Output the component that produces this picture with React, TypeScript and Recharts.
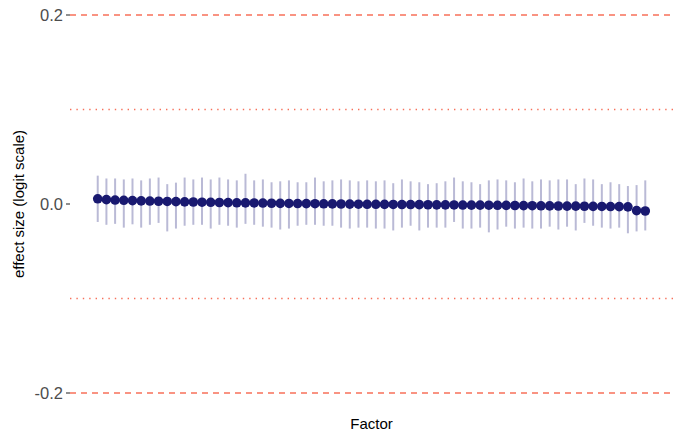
import React from "react";
import {
  ComposedChart,
  Scatter,
  ErrorBar,
  XAxis,
  YAxis,
  ReferenceLine,
  Label,
} from "recharts";

const estimates = [
  0.0055, 0.0046, 0.0042, 0.0039, 0.0036, 0.0033, 0.0031, 0.0029, 0.0027, 0.0025,
  0.0023, 0.0021, 0.0019, 0.0018, 0.0016, 0.0015, 0.0013, 0.0012, 0.0011, 0.001,
  0.0008, 0.0007, 0.0006, 0.0005, 0.0004, 0.0003, 0.0002, 0.0001, 0.0, -0.0001,
  -0.0002, -0.0003, -0.0003, -0.0004, -0.0005, -0.0006, -0.0006, -0.0007, -0.0008, -0.0009,
  -0.0009, -0.001, -0.0011, -0.0012, -0.0012, -0.0013, -0.0014, -0.0015, -0.0016, -0.0017,
  -0.0018, -0.0019, -0.002, -0.0021, -0.0022, -0.0023, -0.0024, -0.0025, -0.0026, -0.0027,
  -0.0028, -0.003, -0.007, -0.0074,
];

const upper = [
  0.03, 0.027, 0.027, 0.026, 0.027, 0.025, 0.027, 0.028, 0.021, 0.0226, 0.028, 0.026, 0.028, 0.026, 0.028,
  0.026, 0.025, 0.032, 0.025, 0.026, 0.023, 0.024, 0.025, 0.023, 0.023, 0.028, 0.024, 0.025, 0.026, 0.025, 0.024,
  0.025, 0.024, 0.025, 0.022, 0.026, 0.024, 0.023, 0.021, 0.022, 0.024, 0.028, 0.024, 0.023, 0.021, 0.025, 0.026,
  0.025, 0.023, 0.027, 0.024, 0.026, 0.025, 0.026, 0.026, 0.021, 0.027, 0.026, 0.021, 0.023, 0.021, 0.019, 0.02, 0.025,
];

const lower = [
  -0.019, -0.022, -0.021, -0.025, -0.0215, -0.025, -0.022, -0.02, -0.029, -0.026, -0.023, -0.022, -0.022, -0.026, -0.022,
  -0.023, -0.025, -0.021, -0.022, -0.024, -0.025, -0.027, -0.026, -0.023, -0.022, -0.022, -0.023, -0.023, -0.025, -0.026, -0.025,
  -0.025, -0.026, -0.026, -0.028, -0.025, -0.023, -0.028, -0.025, -0.025, -0.025, -0.019, -0.026, -0.026, -0.025, -0.03, -0.027,
  -0.024, -0.026, -0.025, -0.026, -0.026, -0.024, -0.027, -0.024, -0.028, -0.02, -0.023, -0.025, -0.026, -0.025, -0.031, -0.029, -0.028,
];

const yTicks = [-0.2, 0, 0.2];
const dashedLines = [0.2, -0.2];
const dottedLines = [0.1, -0.1];

const data = estimates.map((est, i) => ({
  factor: i + 1,
  est,
  err: [est - lower[i], upper[i] - est],
}));

const FONT = "'Liberation Sans', Arial, Helvetica, sans-serif";
const LINE_COLOR = "#F7705A";

const Dot = (props: any) => {
  const { cx, cy } = props;
  if (cx == null || cy == null) return <g />;
  return <circle cx={cx} cy={cy} r={4.8} fill="#191970" />;
};

const Empty = () => <g />;

const YTitle = (props: any) => {
  const vb = props.viewBox || { x: 0, y: 0, width: 0, height: 0 };
  const cx = 18;
  const cy = vb.y + vb.height / 2;
  return (
    <text
      x={cx}
      y={cy}
      transform={`rotate(-90, ${cx}, ${cy})`}
      textAnchor="middle"
      dominantBaseline="central"
      fontSize={15}
      fill="#000"
      fontFamily={FONT}
    >
      effect size (logit scale)
    </text>
  );
};

const XTitle = (props: any) => {
  const vb = props.viewBox || { x: 0, y: 0, width: 0, height: 0 };
  const cx = vb.x + vb.width / 2;
  return (
    <text
      x={cx}
      y={423}
      textAnchor="middle"
      dominantBaseline="central"
      fontSize={15}
      fill="#000"
      fontFamily={FONT}
    >
      Factor
    </text>
  );
};

export default function App() {
  return (
    <div style={{ position: "absolute", left: 0, top: 0, width: 673, height: 433, background: "#fff" }}>
      <ComposedChart
        width={673}
        height={433}
        data={data}
        margin={{ top: 5.55, right: 0, bottom: 0, left: 0 }}
        style={{ fontFamily: FONT }}
      >
        <XAxis
          type="number"
          dataKey="factor"
          domain={[-2.19, 67.19]}
          allowDataOverflow
          tick={false}
          tickLine={false}
          axisLine={false}
          height={30.55}
        >
          <Label content={<XTitle />} />
        </XAxis>
        <YAxis
          type="number"
          domain={[-0.21, 0.21]}
          allowDataOverflow
          ticks={yTicks}
          tickFormatter={(v: number) => (v === 0 ? "0.0" : v.toFixed(1))}
          axisLine={false}
          tickLine={{ stroke: "#333333", strokeWidth: 1.1 }}
          tickSize={4}
          tickMargin={3}
          tick={{ fill: "#4D4D4D", fontSize: 16.5, fontFamily: FONT }}
          width={70}
        >
          <Label content={<YTitle />} />
        </YAxis>
        {dashedLines.map((v) => (
          <ReferenceLine
            key={`d${v}`}
            y={v}
            stroke={LINE_COLOR}
            strokeWidth={1.4}
            strokeDasharray="6 5"
          />
        ))}
        {dottedLines.map((v) => (
          <ReferenceLine
            key={`o${v}`}
            y={v}
            stroke={LINE_COLOR}
            strokeWidth={1.4}
            strokeDasharray="1.4 5"
          />
        ))}
        <Scatter dataKey="est" shape={<Empty />} isAnimationActive={false}>
          <ErrorBar
            dataKey="err"
            direction="y"
            width={0}
            stroke="#BABAD6"
            strokeWidth={2}
            isAnimationActive={false}
          />
        </Scatter>
        <Scatter dataKey="est" shape={<Dot />} isAnimationActive={false} />
      </ComposedChart>
    </div>
  );
}
